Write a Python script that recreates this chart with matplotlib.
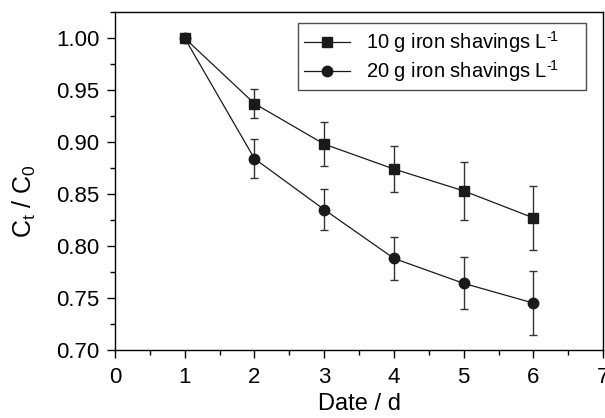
import matplotlib
matplotlib.use("Agg")
import matplotlib.pyplot as plt
from matplotlib.ticker import MultipleLocator, FormatStrFormatter

plt.rcParams['font.family'] = ['Liberation Sans', 'DejaVu Sans']
plt.rcParams['mathtext.fontset'] = 'custom'
plt.rcParams['mathtext.rm'] = 'Liberation Sans'
plt.rcParams['mathtext.it'] = 'Liberation Sans'
plt.rcParams['mathtext.default'] = 'regular'

days = [1, 2, 3, 4, 5, 6]
c10 = [1.000, 0.937, 0.898, 0.874, 0.853, 0.827]
e10 = [0.0, 0.014, 0.021, 0.022, 0.028, 0.031]
c20 = [1.000, 0.884, 0.835, 0.788, 0.764, 0.745]
e20 = [0.0, 0.019, 0.020, 0.021, 0.025, 0.031]
labels = ['10 g iron shavings L$^{\u2010\\!1}$', '20 g iron shavings L$^{\u2010\\!1}$']

fig = plt.figure(figsize=(6.05, 4.18), dpi=100)
ax = fig.add_axes([0.190, 0.163, 0.807, 0.808])

ax.errorbar(days, c10, yerr=e10, fmt='none', ecolor='#333333',
            elinewidth=1.0, capsize=3, capthick=1.0)
ax.errorbar(days, c20, yerr=e20, fmt='none', ecolor='#333333',
            elinewidth=1.0, capsize=3, capthick=1.0)
ax.plot(days, c10, color='#1a1a1a', marker='s', markersize=6.5, linewidth=0.9,
        label=labels[0])
ax.plot(days, c20, color='#1a1a1a', marker='o', markersize=7.5, linewidth=0.9,
        label=labels[1])

ax.set_xlim(0, 7)
ax.set_ylim(0.70, 1.025)
ax.xaxis.set_major_locator(MultipleLocator(1))
ax.xaxis.set_minor_locator(MultipleLocator(0.5))
ax.yaxis.set_major_locator(MultipleLocator(0.05))
ax.yaxis.set_minor_locator(MultipleLocator(0.025))
ax.yaxis.set_major_formatter(FormatStrFormatter('%.2f'))
ax.tick_params(which='major', direction='out', length=6, width=1, labelsize=16,
               top=False, right=False)
ax.tick_params(axis='x', which='major', pad=6)
ax.tick_params(axis='y', which='major', pad=5)
ax.tick_params(which='minor', direction='out', length=3.5, width=1,
               top=False, right=False)
for s in ax.spines.values():
    s.set_linewidth(1.0)

ax.set_xlabel('Date / d', fontsize=17, labelpad=4)
ax.set_ylabel('C$_t$ / C$_0$', fontsize=18)
ax.yaxis.set_label_coords(-0.158, 0.44)

leg = ax.legend(loc='upper left', fontsize=14.5, frameon=True, fancybox=False,
                edgecolor='#222222', borderpad=0.3, handlelength=2.3,
                handletextpad=0.75, labelspacing=0.15, mode='expand',
                bbox_to_anchor=(0.375, 0.787, 0.59, 0.181), borderaxespad=0)
leg.get_frame().set_linewidth(1.0)

fig.savefig('out.png', dpi=100)
